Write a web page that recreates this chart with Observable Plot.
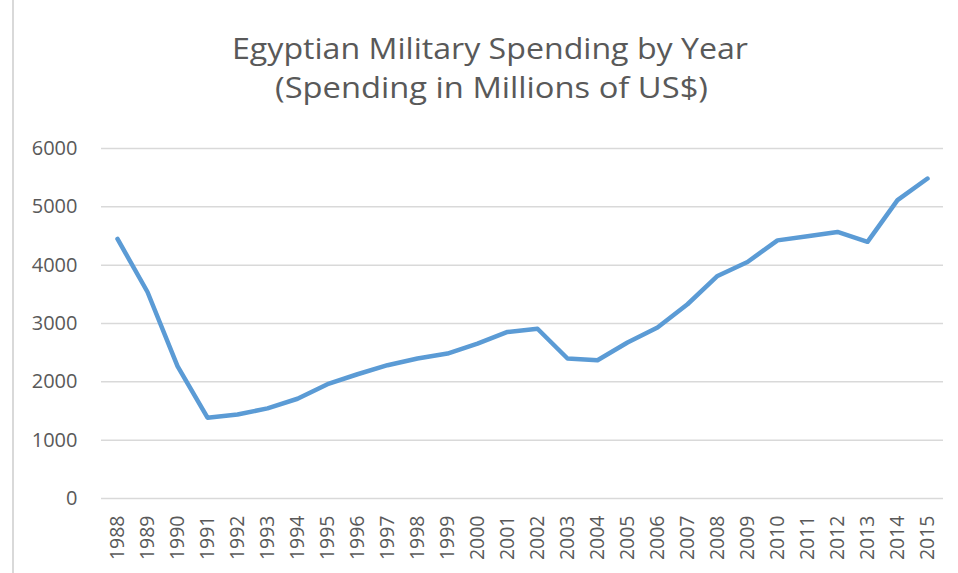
<!DOCTYPE html>
<html>
<head>
<meta charset="utf-8">
<script src="https://cdn.jsdelivr.net/npm/d3@7"></script>
<script src="https://cdn.jsdelivr.net/npm/@observablehq/plot@0.6"></script>
<style>
  html, body { margin: 0; padding: 0; background: #fff; }
  #wrap { position: relative; width: 958px; height: 573px; overflow: hidden; font-family: "Open Sans", sans-serif; }
  #border { position: absolute; left: 12px; top: 0; width: 2px; height: 573px; background: #d9d9d9; }
  #title { display: block; }
  #chart svg { display: block; }
</style>
</head>
<body>
<div id="wrap">
  <div id="border"></div>
  <svg id="title" width="958" height="120"></svg>
  <div id="chart"></div>
</div>
<script>
const titleLines = ["Egyptian Military Spending by Year", "(Spending in Millions of US$)"];
const years = ["1988","1989","1990","1991","1992","1993","1994","1995","1996","1997","1998","1999","2000","2001","2002","2003","2004","2005","2006","2007","2008","2009","2010","2011","2012","2013","2014","2015"];
const spending = [4450,3540,2270,1385,1440,1545,1710,1960,2130,2285,2400,2485,2655,2855,2910,2400,2370,2675,2930,3330,3815,4055,4425,4495,4570,4400,5115,5485];
const yTicks = [0,1000,2000,3000,4000,5000,6000];

// Title (real text)
const tsvg = d3.select("#title");
const titleSpecs = [
  {text: titleLines[0], x: 490, y: 59, len: 516},
  {text: titleLines[1], x: 491.5, y: 98, len: 433}
];
titleSpecs.forEach(s => {
  tsvg.append("text")
    .attr("x", s.x).attr("y", s.y)
    .attr("text-anchor", "middle")
    .attr("font-family", "'Open Sans', sans-serif")
    .attr("font-size", 30)
    .attr("fill", "#595959")
    .attr("textLength", s.len)
    .attr("lengthAdjust", "spacingAndGlyphs")
    .text(s.text);
});

const data = years.map((y, i) => ({year: y, value: spending[i]}));

const chart = Plot.plot({
  width: 958,
  height: 453,
  marginTop: 28,
  marginBottom: 75,
  marginLeft: 101,
  marginRight: 15,
  style: {fontFamily: "'Open Sans', sans-serif", color: "#595959", background: "transparent"},
  x: {type: "point", domain: years, padding: 0.5},
  y: {domain: [0, 6000]},
  marks: [
    Plot.ruleY(yTicks, {stroke: "#d9d9d9", strokeWidth: 1.5, strokeOpacity: 1}),
    Plot.axisY({ticks: yTicks, tickFormat: d => String(d), tickSize: 0, tickPadding: 24, fontSize: 20, label: null, fill: "#595959"}),
    Plot.axisX({tickRotate: -90, tickSize: 0, tickPadding: 17, fontSize: 19.5, label: null, fill: "#595959"}),
    Plot.line(data, {x: "year", y: "value", stroke: "#5b9bd5", strokeWidth: 4.5, strokeLinejoin: "round", strokeLinecap: "round"})
  ]
});
document.getElementById("chart").appendChild(chart);
</script>
</body>
</html>
